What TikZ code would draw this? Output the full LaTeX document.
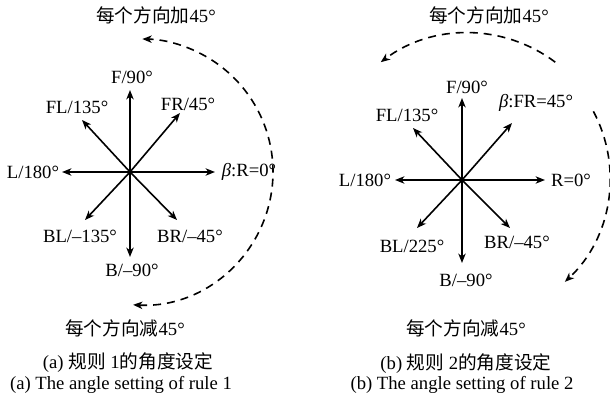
\documentclass[tikz,border=0pt]{standalone}
\usepackage{fontspec}
\setmainfont{Liberation Serif}
\newfontfamily\cjk{Noto Sans CJK SC}
\usetikzlibrary{arrows.meta,calc}
\begin{document}
\begin{tikzpicture}[x=0.75pt,y=0.75pt,
  dirarrow/.style={line width=1.2pt,-{Stealth[length=7pt,width=5.5pt,inset=2pt]}},
  turnarc/.style={line width=1.2pt,dash pattern=on 6pt off 4.5pt},
  lbl/.style={inner sep=0pt,font=\fontsize{14}{16}\selectfont},
  turnhead/.style={-{Stealth[length=7pt,width=5.5pt,inset=2pt]}}]
\useasboundingbox[fill=white] (0,0) rectangle (610,-399);

% ---- rule 1 ----
\coordinate (c1) at (130,-172);
\coordinate (f1) at (130,-90);
\coordinate (fr1) at (180,-113);
\coordinate (fl1) at (82,-120);
\coordinate (l1) at (62,-172);
\coordinate (r1) at (215,-172);
\coordinate (bl1) at (85,-220);
\coordinate (br1) at (177,-220);
\coordinate (b1) at (130,-257);
\foreach \t in {f1,fr1,fl1,l1,r1,bl1,br1,b1} \draw[dirarrow] (c1) -- (\t);

\node[lbl] (tf1) at (132,-77) {F/90°};
\node[lbl] (tfl1) at (77,-107) {FL/135°};
\node[lbl] (tfr1) at (188,-104) {FR/45°};
\node[lbl] (tl1) at (33,-172) {L/180°};
\node[lbl] (tr1) at (249,-172) {{\itshape β}:R=0°};
\node[lbl] (tbl1) at (80,-236) {BL/–135°};
\node[lbl] (tbr1) at (190,-236) {BR/–45°};
\node[lbl] (tb1) at (132,-270) {B/–90°};

\coordinate (arc1) at (140,-172);
\draw[turnarc,{Stealth[length=7pt,width=5.5pt,inset=2pt]}-{Stealth[length=7pt,width=5.5pt,inset=2pt]}]
  ($(arc1)+(-93:133)$) arc[start angle=-93,end angle=89,radius=133];

\node[lbl] (add1) at (156,-15) {{\cjk 每个方向加}45°};
\node[lbl] (sub1) at (125,-328) {{\cjk 每个方向减}45°};
\node[lbl] (capa) at (128,-363) {(a) {\cjk 规则} 1{\cjk 的角度设定}};
\node[lbl] (capae) at (121,-385) {(a) The angle setting of rule 1};

% ---- rule 2 ----
\coordinate (c2) at (462,-180);
\coordinate (f2) at (462,-98);
\coordinate (fr2) at (512,-123);
\coordinate (fl2) at (413,-128);
\coordinate (l2) at (395,-180);
\coordinate (r2) at (545,-180);
\coordinate (bl2) at (417,-228);
\coordinate (br2) at (510,-228);
\coordinate (b2) at (462,-263);
\foreach \t in {f2,fr2,fl2,l2,r2,bl2,br2,b2} \draw[dirarrow] (c2) -- (\t);

\node[lbl] (tf2) at (467,-87) {F/90°};
\node[lbl] (tfr2) at (536,-103) {{\itshape β}:FR=45°};
\node[lbl] (tfl2) at (407,-115) {FL/135°};
\node[lbl] (tl2) at (365,-180) {L/180°};
\node[lbl] (tr2) at (571,-180) {R=0°};
\node[lbl] (tbl2) at (412,-246) {BL/225°};
\node[lbl] (tbr2) at (517,-242) {BR/–45°};
\node[lbl] (tb2) at (466,-280) {B/–90°};

\coordinate (arc2) at (468,-178);
\draw[turnarc,turnhead] ($(arc2)+(53:145)$) arc[start angle=53,end angle=127,radius=145];
\draw[turnarc,turnhead] ($(arc2)+(28:142)$) arc[start angle=28,end angle=-47,radius=142];

\node[lbl] (add2) at (489,-15) {{\cjk 每个方向加}45°};
\node[lbl] (sub2) at (466,-328) {{\cjk 每个方向减}45°};
\node[lbl] (capb) at (466,-364) {(b) {\cjk 规则} 2{\cjk 的角度设定}};
\node[lbl] (capbe) at (462,-385) {(b) The angle setting of rule 2};
\end{tikzpicture}
\end{document}
